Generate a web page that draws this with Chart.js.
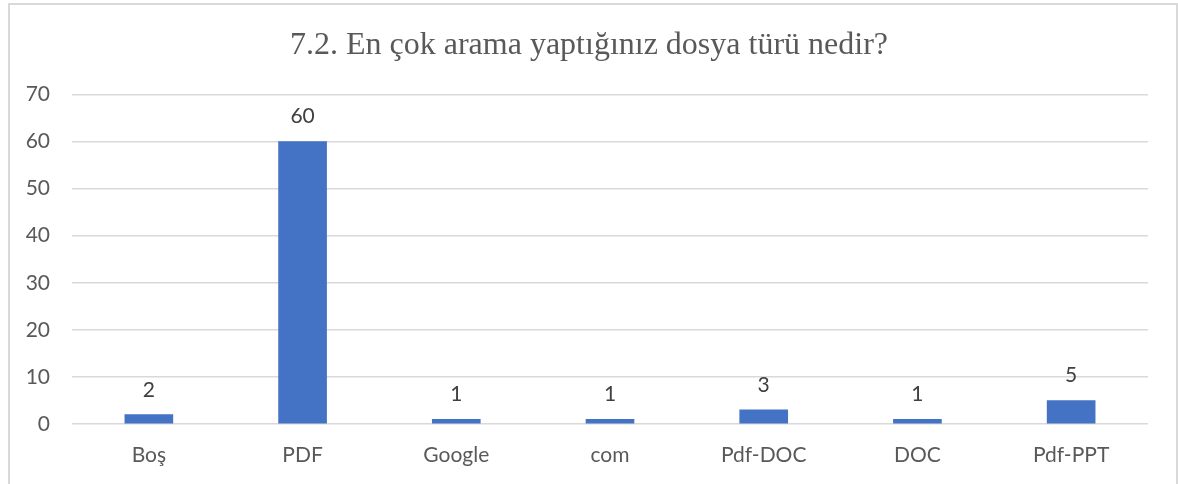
<!DOCTYPE html>
<html>
<head>
<meta charset="utf-8">
<script src="https://cdn.jsdelivr.net/npm/chart.js@4"></script>
<style>
  body { margin: 0; background: #fff; overflow: hidden; }
  #frame {
    position: absolute; left: 8px; top: 3px; width: 1166px; height: 520px;
    border: 2px solid #d9d9d9;
  }
  #chart { position: absolute; left: 0; top: 0; }
</style>
</head>
<body>
<div id="frame"></div>
<canvas id="chart" width="1178" height="484"></canvas>
<script>
const chartTitle = '7.2. En çok arama yaptığınız dosya türü nedir?';
const categories = ['Boş', 'PDF', 'Google', 'com', 'Pdf-DOC', 'DOC', 'Pdf-PPT'];
const counts = [2, 60, 1, 1, 3, 1, 5];
const yTicks = [0, 10, 20, 30, 40, 50, 60, 70];

const textColor = '#595959';
const sansFont = 'Lato, "Open Sans", sans-serif';

// draws the value above each bar
const valueLabels = {
    id: 'valueLabels',
    afterDatasetsDraw(chart) {
        const ctx = chart.ctx;
        const meta = chart.getDatasetMeta(0);
        ctx.save();
        ctx.fillStyle = '#404040';
        ctx.font = '21px ' + sansFont;
        ctx.textAlign = 'center';
        ctx.textBaseline = 'alphabetic';
        meta.data.forEach((bar, i) => {
            ctx.fillText(counts[i], bar.x, bar.y - 18);
        });
        ctx.restore();
    }
};

new Chart(document.getElementById('chart'), {
    type: 'bar',
    data: {
        labels: categories,
        datasets: [{
            data: counts,
            backgroundColor: '#4472C4',
            barThickness: 48
        }]
    },
    options: {
        responsive: false,
        animation: false,
        layout: { padding: 0 },
        plugins: {
            legend: { display: false },
            tooltip: { enabled: false },
            title: {
                display: true,
                text: chartTitle,
                color: textColor,
                font: { family: '"Liberation Serif", "Times New Roman", serif', size: 32, weight: 'normal' },
                padding: { top: 26, bottom: 30 }
            }
        },
        scales: {
            x: {
                afterFit(scale) { scale.height = 60; },
                grid: { display: false, drawTicks: false },
                border: { display: false },
                ticks: { color: textColor, font: { family: sansFont, size: 21 }, padding: 19, maxRotation: 0 }
            },
            y: {
                min: 0,
                max: 70,
                afterFit(scale) { scale.width = 72; },
                afterBuildTicks(scale) { scale.ticks = yTicks.map(v => ({ value: v })); },
                grid: { color: '#d9d9d9', lineWidth: 1.5, drawTicks: false },
                border: { display: false },
                ticks: { color: textColor, font: { family: sansFont, size: 21 }, padding: 22 }
            },
            // empty right axis, only keeps space on the right
            yRight: {
                position: 'right',
                min: 0,
                max: 70,
                afterFit(scale) { scale.width = 30; },
                grid: { display: false, drawTicks: false },
                border: { display: false },
                ticks: { display: false }
            }
        }
    },
    plugins: [valueLabels]
});
</script>
</body>
</html>
